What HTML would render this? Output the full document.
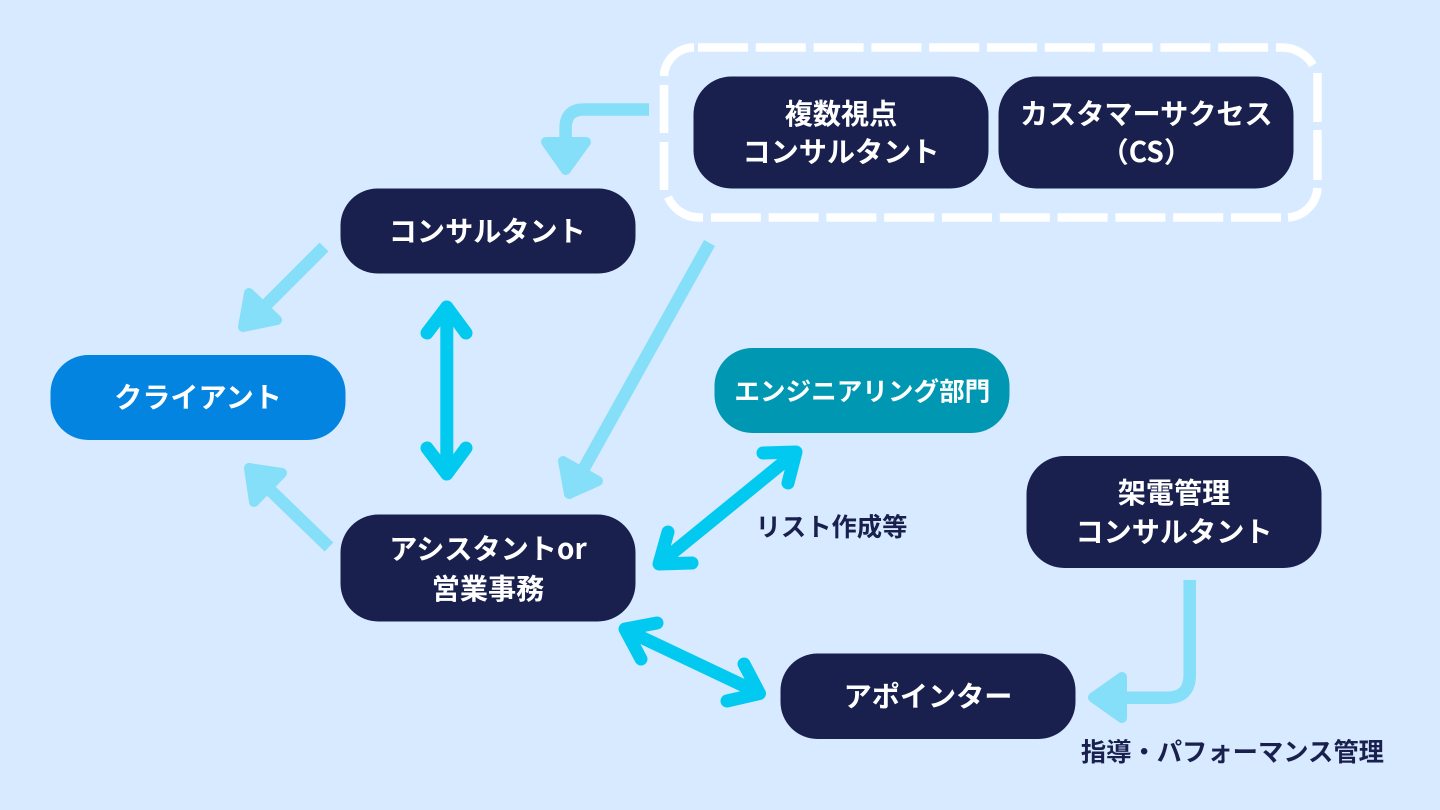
<!DOCTYPE html>
<html lang="ja">
<head>
<meta charset="utf-8">
<style>
html,body{margin:0;padding:0;background:#d8eaff;width:1440px;height:810px;overflow:hidden}
svg{display:block}
text{font-family:"Noto Sans CJK JP","Liberation Sans",sans-serif;font-weight:700;fill:#fff;text-anchor:middle;font-size:28.15px}
text.d{fill:#19204e;font-size:25.3px;font-weight:700}
.l{fill:none;stroke:#85dff9;stroke-width:12.5}
.h{fill:#85dff9;stroke:#85dff9;stroke-width:10;stroke-linejoin:round}
.b{fill:none;stroke:#02c9ef;stroke-width:13;stroke-linecap:round;stroke-linejoin:round}
.w{fill:none;stroke:#fff;stroke-width:8.5}
</style>
</head>
<body>
<svg width="1440" height="810" viewBox="0 0 1440 810" xmlns="http://www.w3.org/2000/svg">
<rect width="1440" height="810" fill="#d8eaff"/>

<path class="w" d="M664 76A30 30 0 0 1 694 47.5"/>
<path class="w" stroke-dasharray="50 7.8" d="M698 47.5H1268"/>
<path class="w" d="M1276 47.5H1282A36 36 0 0 1 1313 65"/>
<path class="w" d="M1317.5 73V122M1317.5 130V180"/>
<path class="w" d="M1317.5 188A32 32 0 0 1 1288 217.5"/>
<path class="w" stroke-dasharray="50 7.8" d="M1281 217.5H711"/>
<path class="w" d="M703 217.5H700A34 34 0 0 1 668 197"/>
<path class="w" d="M664 190V142M664 133V85"/>

<rect x="693.5" y="76.5" width="295" height="112" rx="38" fill="#19204e"/>
<rect x="998.5" y="76.5" width="295" height="112" rx="38" fill="#19204e"/>
<rect x="340.5" y="188.5" width="295" height="85" rx="37" fill="#19204e"/>
<rect x="50.5" y="355" width="295" height="85" rx="38" fill="#0284e0"/>
<rect x="714.5" y="348" width="295" height="85" rx="38" fill="#0097b2"/>
<rect x="340.5" y="514.5" width="295" height="107" rx="38" fill="#19204e"/>
<rect x="1026.5" y="456" width="295" height="112" rx="38" fill="#19204e"/>
<rect x="780.5" y="653.5" width="295" height="85.5" rx="37" fill="#19204e"/>

<path class="l" d="M649 109.5H584Q565.6 109.5 565.6 128V142"/>
<polygon class="h" points="546,142 586,142 565.8,170"/>

<path class="l" d="M324 247L264 307"/>
<polygon class="h" points="243,327 249,293 277,320"/>

<path class="l" d="M329 547L268 488"/>
<polygon class="h" points="249,468 282,473 254,502"/>

<path class="l" d="M709.5 243L583 470"/>
<polygon class="h" points="563,461 598,481 569,494"/>

<path class="l" d="M1189.7 580V675Q1189.7 697.7 1167 697.7H1120"/>
<polygon class="h" points="1122,677 1122,718 1093,697.5"/>

<path class="b" d="M446.8 307V474M427 333L446.8 307L466 333M427 448L446.8 474L466 448"/>
<path class="b" d="M660 563L795 453M763 453L796 452L788 483M668 532L659 564L692 563"/>
<path class="b" d="M626 630L759 693M657 623L625 629L641 659M744 664L759.5 693.5L727 701"/>

<text x="841" y="124">複数視点</text>
<text x="841" y="162">コンサルタント</text>
<text x="1146.3" y="124">カスタマーサクセス</text>
<text x="1146.3" y="162">（CS）</text>
<text x="487.3" y="241.5">コンサルタント</text>
<text x="198" y="407.5">クライアント</text>
<text x="862.3" y="400.5" style="font-size:25.6px">エンジニアリング部門</text>
<text x="488" y="559">アシスタントor</text>
<text x="488" y="599">営業事務</text>
<text x="1174" y="503">架電管理</text>
<text x="1174" y="542">コンサルタント</text>
<text x="928" y="706.5">アポインター</text>
<text class="d" x="831.5" y="536">リスト作成等</text>
<text class="d" x="1232.4" y="761">指導・パフォーマンス管理</text>
</svg>
</body>
</html>
